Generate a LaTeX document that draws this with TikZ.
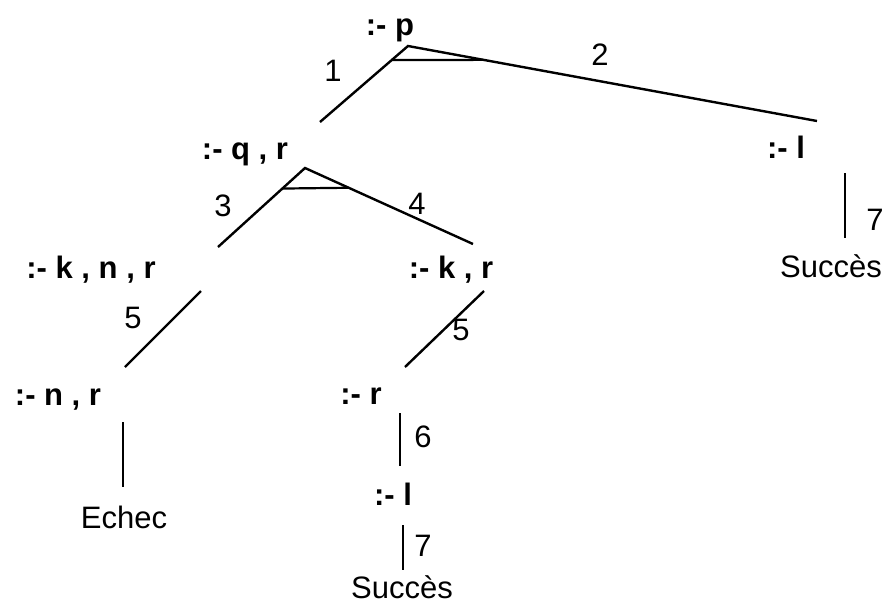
\documentclass[tikz,border=0pt]{standalone}
\usepackage{fontspec}
\setmainfont{Liberation Sans}
\usepackage{tikz}
\usetikzlibrary{calc}
\tikzset{
  goal/.style={font=\fontsize{31}{36}\selectfont\bfseries,inner sep=0pt,anchor=base},
  rulenum/.style={font=\fontsize{31}{36}\selectfont,inner sep=0pt,anchor=base},
  result/.style={font=\fontsize{31}{36}\selectfont,inner sep=0pt,anchor=base},
  branch/.style={draw=black,line width=2.4pt},
  andbar/.style={draw=black,line width=2.2pt}
}

\begin{document}
\begin{tikzpicture}[x=1pt,y=-1pt]
  \useasboundingbox (0,0) rectangle (887,606);
  % goals
  \node[goal] (p) at (390,35) {:- p};
  \node[goal] (qr) at (245,159) {:- q , r};
  \node[goal] (knr) at (91,278) {:- k , n , r};
  \node[goal] (kr) at (451,278) {:- k , r};
  \node[goal] (nr) at (58,405) {:- n , r};
  \node[goal] (r) at (361,404) {:- r};
  \node[goal] (lmid) at (393,505) {:- l};
  \node[goal] (lright) at (786,158) {:- l};
  \node[result] (echec) at (124,528) {Echec};
  \node[result] (okmid) at (402,598) {Succès};
  \node[result] (okright) at (831,277) {Succès};
  % branch ends
  \coordinate (p-s) at (408,46);
  \coordinate (qr-e) at (320,122);
  \coordinate (lright-e) at (817,121);
  \coordinate (qr-s) at (305,168);
  \coordinate (knr-e) at (218,247);
  \coordinate (kr-e) at (473,244);
  \coordinate (knr-s) at (201,291);
  \coordinate (nr-e) at (125,367);
  \coordinate (kr-s) at (484,291);
  \coordinate (r-e) at (405,367);
  \coordinate (nr-s) at (123,422);
  \coordinate (echec-e) at (123,487);
  \coordinate (r-s) at (400,413);
  \coordinate (lmid-e) at (400,466);
  \coordinate (lmid-s) at (403,525);
  \coordinate (okmid-e) at (403,570);
  \coordinate (lright-s) at (845,173);
  \coordinate (okright-e) at (845,238);
  % branches
  \draw[branch] (qr-e) -- (p-s) -- (lright-e);
  \draw[andbar] ($(p-s)!.185!(qr-e)$) -- ($(p-s)!.185!(lright-e)$);
  \draw[branch] (knr-e) -- (qr-s) -- (kr-e);
  \draw[andbar] ($(qr-s)!.26!(knr-e)$) -- ($(qr-s)!.26!(kr-e)$);
  \draw[branch] (knr-s) -- (nr-e);
  \draw[branch] (kr-s) -- (r-e);
  \draw[branch] (nr-s) -- (echec-e);
  \draw[branch] (r-s) -- (lmid-e);
  \draw[branch] (lmid-s) -- (okmid-e);
  \draw[branch] (lright-s) -- (okright-e);
  % clause numbers
  \node[rulenum] (n1) at (333,81) {1};
  \node[rulenum] (n2) at (600,65) {2};
  \node[rulenum] (n3) at (223,216) {3};
  \node[rulenum] (n4) at (417,214) {4};
  \node[rulenum] (n5a) at (133,328) {5};
  \node[rulenum] (n5b) at (461,340) {5};
  \node[rulenum] (n6) at (423,447) {6};
  \node[rulenum] (n7a) at (423,556) {7};
  \node[rulenum] (n7b) at (875,230) {7};
\end{tikzpicture}
\end{document}
